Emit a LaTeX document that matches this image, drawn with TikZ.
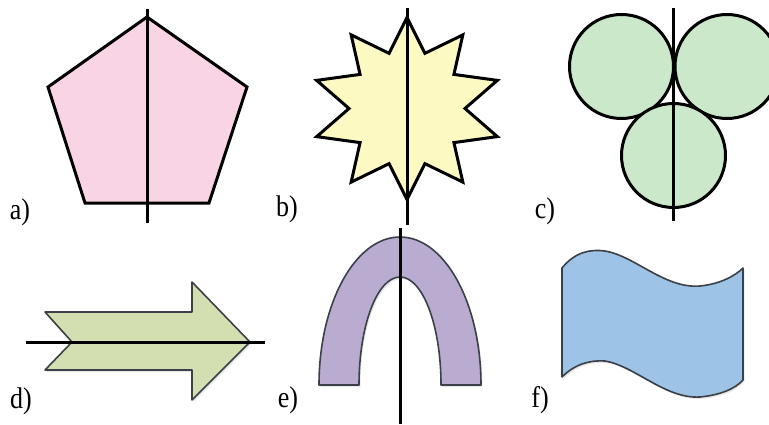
\documentclass[tikz,border=0pt]{standalone}
\usepackage{fontspec}
\setmainfont{Liberation Serif}
\usetikzlibrary{shadows}
\definecolor{pinkf}{HTML}{F9D4E4}
\definecolor{yellowf}{HTML}{FDF9C2}
\definecolor{greenf}{HTML}{CBE8CB}
\definecolor{olivef}{HTML}{D3DFB0}
\definecolor{purplef}{HTML}{B9ACD0}
\definecolor{bluef}{HTML}{9DC3E6}
\definecolor{edgegrey}{HTML}{3C4048}
\tikzset{
  boldshape/.style={draw=black, line width=3pt, line join=miter},
  softshape/.style={draw=edgegrey, line width=1.6pt, line join=round,
    drop shadow={opacity=0.18, shadow xshift=1.5pt, shadow yshift=-2pt}},
  axisline/.style={draw=black, line width=3pt},
  lbl/.style={font=\fontsize{26}{28}\selectfont, inner sep=0pt, yscale=1.15, transform shape}
}
\begin{document}
\begin{tikzpicture}[x=1pt,y=1pt]
\useasboundingbox[fill=white] (0,0) rectangle (769,424);
% a) pentagon
\draw[boldshape, fill=pinkf] (147,407) -- (247,337) -- (209,221) -- (85,221) -- (48,337) -- cycle;
\coordinate (a1) at (147,415);
\coordinate (a2) at (147,201);
\draw[axisline] (a1) -- (a2);
\node[lbl] (la) at (20,212) {a)};
% b) star
\draw[boldshape, fill=yellowf] (407,406.5)
  \foreach \k in {0,...,9} {
    -- ({407+58*cos(108+36*\k)},{315.5+58*sin(108+36*\k)})
    -- ({407+95*cos(126+36*\k)},{315.5+91*sin(126+36*\k)})
  } -- cycle;
\coordinate (b1) at (407,416);
\coordinate (b2) at (407,199);
\draw[axisline] (b1) -- (b2);
\node[lbl] (lb) at (287,215) {b)};
% c) circles
\draw[boldshape, fill=greenf] (621.5,357.5) circle[radius=52];
\draw[boldshape, fill=greenf] (727,357.5) circle[radius=52];
\draw[boldshape, fill=greenf] (673.5,268.5) circle[radius=52];
\coordinate (c1) at (673,416);
\coordinate (c2) at (673,203);
\draw[axisline] (c1) -- (c2);
\node[lbl] (lc) at (545,213) {c)};
% d) arrow
\draw[softshape, fill=olivef] (45,112) -- (192,112) -- (192,142) -- (250,82) -- (192,24) -- (192,54) -- (45,54) -- (72,82) -- cycle;
\coordinate (d1) at (26,82);
\coordinate (d2) at (265,82);
\draw[axisline] (d1) -- (d2);
\node[lbl] (ld) at (21,23) {d)};
% e) arch
\draw[softshape, fill=purplef] (319,39) arc[start angle=180, end angle=0, x radius=81, y radius=148]
  -- (441,39) arc[start angle=0, end angle=180, x radius=41, y radius=108] -- cycle;
\coordinate (e1) at (400,196);
\coordinate (e2) at (400,0);
\draw[axisline] (e1) -- (e2);
\node[lbl] (le) at (288,24) {e)};
% f) flag
\draw[softshape, fill=bluef] (562,156)
  .. controls (575,172) and (590,175) .. (605,173)
  .. controls (635,168) and (665,135) .. (700,138)
  .. controls (720,140) and (735,148) .. (743,156)
  -- (743,44)
  .. controls (735,35) and (720,29) .. (700,27)
  .. controls (665,25) and (635,58) .. (605,63)
  .. controls (590,64) and (575,60) .. (562,47) -- cycle;
\node[lbl] (lf) at (540,24) {f)};
\end{tikzpicture}
\end{document}
